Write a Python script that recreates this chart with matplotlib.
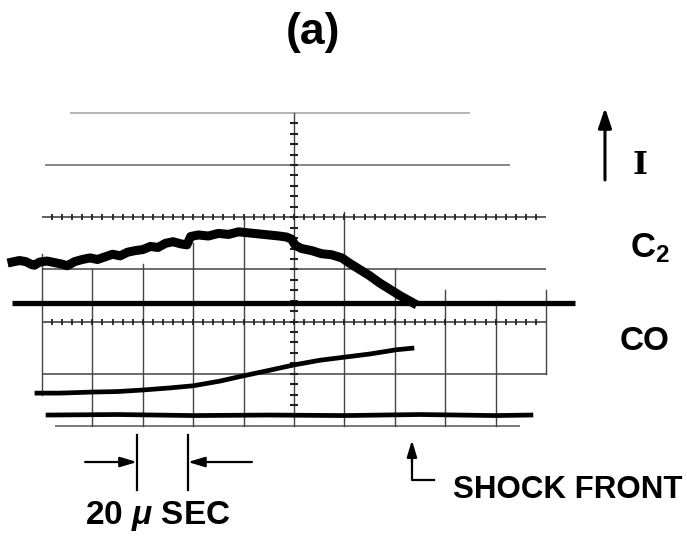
# Oscilograma (a): emision C2 y CO detras del frente de choque
import numpy as np
import matplotlib.pyplot as plt

plt.rcParams['font.family'] = ['Liberation Sans', 'DejaVu Sans']
plt.rcParams['mathtext.fontset'] = 'custom'
plt.rcParams['mathtext.rm'] = 'Liberation Sans:bold'
plt.rcParams['mathtext.it'] = 'Liberation Sans:italic:bold'

c2_t = [-11.9, -9.0, -6.5, -4.0, -3.0, -1.0, 2.0, 5.0, 8.0, 10.0, 13.0, 16.0,
        19.0, 22.0, 25.0, 28.0, 31.0, 34.0, 37.0, 40.0, 43.0, 46.0, 49.0,
        52.0, 55.0, 57.5, 59.0, 62.0, 66.0, 70.0, 74.0, 78.0, 82.0, 86.0,
        90.0, 94.0, 97.0, 99.0, 100.5, 103.0, 107.0, 111.0, 115.0, 119.0,
        122.0, 126.0, 130.0, 134.0, 138.0, 142.0, 147.2]
c2_v = [3.14, 3.17, 3.15, 3.09, 3.08, 3.14, 3.16, 3.13, 3.10, 3.07, 3.15, 3.19,
        3.22, 3.19, 3.24, 3.29, 3.26, 3.33, 3.36, 3.38, 3.44, 3.42, 3.50,
        3.53, 3.49, 3.47, 3.63, 3.66, 3.64, 3.69, 3.67, 3.72, 3.70, 3.68,
        3.66, 3.64, 3.62, 3.58, 3.46, 3.40, 3.36, 3.30, 3.28, 3.22,
        3.12, 3.00, 2.88, 2.74, 2.62, 2.50, 2.36]

base_t = [-11.9, 211.5]
base_v = [2.36, 2.36]

co_t = [-2.0, 7.0, 19.8, 30.0, 40.1, 50.8, 59.9, 70.6, 79.8, 90.5, 100.0,
        110.3, 120.2, 130.2, 140.5, 146.8]
co_v = [0.63, 0.63, 0.65, 0.66, 0.69, 0.73, 0.77, 0.86, 0.96, 1.07, 1.17,
        1.26, 1.32, 1.38, 1.46, 1.49]

co0_t = [2.4, 30.0, 60.0, 90.0, 120.0, 150.0, 180.0, 194.0]
co0_v = [0.21, 0.22, 0.20, 0.21, 0.20, 0.22, 0.20, 0.21]

# Reticula del osciloscopio
h_lines = [6, 5, 4, 3, 2, 1, 0]
h_start = [11.1, 1.2, 0, 0, 0, 0, 5.2]
h_end = [169.8, 185.7, 200, 200, 200, 200, 189.7]
h_gray = ['#a0a0a0', '#666666', '#333333', '#444444', '#333333', '#444444', '#555555']

v_lines = [0, 20, 40, 60, 80, 100, 120, 140, 160, 180, 200]
v_top = [3.3, 3.0, 3.1, 3.5, 4.0, 6.0, 4.1, 3.0, 2.6, 2.4, 2.6]
v_bot = [0.6, 0, 0, 0, 0, 0, 0, 0, 0, 0, 1.0]

fig = plt.figure(figsize=(6.87, 5.41), dpi=100)
ax = fig.add_axes([0, 0, 1, 1])
ax.set_xlim(-16.67, 255.95)
ax.set_ylim(-2.203, 8.161)
ax.axis('off')

for y, a, b, c in zip(h_lines, h_start, h_end, h_gray):
    ax.plot([a, b], [y, y], color=c, lw=1.1, solid_capstyle='butt')
for x, a, b in zip(v_lines, v_top, v_bot):
    ax.plot([x, x], [b, a], color='#444444', lw=1.0)

# marcas menores
ticks_x = np.arange(4, 200, 4)
ax.plot(ticks_x, np.full(len(ticks_x), 4.0), ls='none', marker='|',
        ms=5, mew=1.3, color='#222222')
ax.plot(ticks_x, np.full(len(ticks_x), 2.0), ls='none', marker='|',
        ms=5, mew=1.3, color='#222222')
ticks_y = np.arange(0.2, 6.0, 0.2)
ax.plot(np.full(len(ticks_y), 100.0), ticks_y, ls='none', marker='_',
        ms=6, mew=1.5, color='#222222')

# trazas
ax.plot(base_t, base_v, color='black', lw=3.8, solid_capstyle='butt')
ax.plot(c2_t, c2_v, color='black', lw=6.5, solid_joinstyle='round')
ax.plot(co_t, co_v, color='black', lw=3.4)
ax.plot(co0_t, co0_v, color='black', lw=3.4)

# textos
ax.text(107.5, 7.53, '(a)', fontsize=32, fontweight='bold',
        ha='center', va='center')
ax.annotate('', xy=(223.4, 6.15), xytext=(223.4, 4.66),
            arrowprops=dict(arrowstyle='-|>,head_length=1.2,head_width=0.4',
                            lw=2.2, color='black'))
ax.text(237.3, 5.0, 'I', fontsize=23, family='DejaVu Serif', fontweight='bold',
        ha='center', va='center')
ax.text(233.5, 3.41, 'C$_2$', fontsize=25, fontweight='bold',
        ha='left', va='center')
ax.text(239.3, 1.61, 'CO', fontsize=24, fontweight='bold',
        ha='center', va='center')

# escala 20 microsegundos
ax.plot([37.7, 37.7], [-0.17, -1.23], color='black', lw=1.6)
ax.plot([57.9, 57.9], [-0.17, -1.23], color='black', lw=1.6)
ax.annotate('', xy=(37.7, -0.69), xytext=(17.1, -0.69),
            arrowprops=dict(arrowstyle='-|>,head_length=1.0,head_width=0.3',
                            lw=1.6, color='black', shrinkA=0, shrinkB=0))
ax.annotate('', xy=(57.9, -0.69), xytext=(83.3, -0.69),
            arrowprops=dict(arrowstyle='-|>,head_length=1.0,head_width=0.3',
                            lw=1.6, color='black', shrinkA=0, shrinkB=0))
ax.text(46.0, -1.72, '20 $\\mu$ SEC', fontsize=24, fontweight='bold',
        ha='center', va='center')

# frente de choque
ax.plot([146.8, 146.8, 155.5], [-0.6, -1.03, -1.03], color='black', lw=1.6)
ax.annotate('', xy=(146.8, -0.27), xytext=(146.8, -0.7),
            arrowprops=dict(arrowstyle='-|>,head_length=1.0,head_width=0.3',
                            lw=1.6, color='black', shrinkA=0, shrinkB=0))
ax.text(163.1, -1.23, 'SHOCK FRONT', fontsize=22.5, fontweight='bold',
        ha='left', va='center')

plt.savefig('out.png', dpi=100)
